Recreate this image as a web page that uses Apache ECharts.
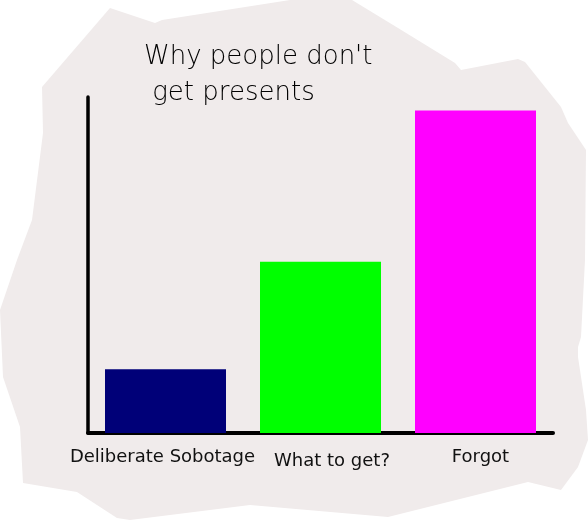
<!DOCTYPE html>
<html>
<head>
<meta charset="utf-8">
<script src="https://cdn.jsdelivr.net/npm/echarts@6/dist/echarts.min.js"></script>
<style>
  html, body { margin: 0; padding: 0; background: #ffffff; }
  #chart { width: 588px; height: 521px; }
</style>
</head>
<body>
<div id="chart"></div>
<script>
const categories = ['Deliberate Sobotage', 'What to get?', 'Forgot'];
const values = [19, 51, 96];
const barColors = ['#000078', '#00ff00', '#ff00ff'];
const titleText = "Why people don't\n get presents";

const paperShape = [[110,8],[155,23],[162,20],[290,0],[352,0],[398,28],[455,63],[461,70],[518,59],[525,62],[561,107],[568,123],[586,150],[585,260],[581,337],[578,347],[578,357],[586,410],[588,440],[578,467],[561,490],[528,482],[388,517],[250,505],[130,520],[117,518],[77,492],[23,483],[20,427],[3,377],[0,310],[17,260],[32,220],[43,133],[42,87]];

const labelPads = [[0, 6, 0, 0], [4, 0, 0, 23], [0, 0, 0, 10]];

const chart = echarts.init(document.getElementById('chart'), null, { renderer: 'canvas' });
chart.setOption({
  animation: false,
  backgroundColor: '#ffffff',
  graphic: [{
    type: 'polygon',
    z: -10,
    silent: true,
    shape: { points: paperShape },
    style: { fill: '#f0ebeb' }
  }],
  title: {
    text: titleText,
    left: 139,
    top: 34,
    textStyle: {
      fontFamily: 'DejaVu Sans',
      fontWeight: 200,
      fontSize: 26,
      lineHeight: 36,
      color: '#000000'
    }
  },
  grid: { left: 88, right: 35, top: 97, bottom: 88, containLabel: false },
  xAxis: {
    type: 'category',
    data: categories.map((c, i) => ({ value: c, textStyle: { padding: labelPads[i] } })),
    axisLine: { show: true, lineStyle: { color: '#000', width: 4 } },
    axisTick: { show: false },
    axisLabel: {
      margin: 15,
      fontFamily: 'DejaVu Sans',
      fontSize: 18,
      color: '#111',
      interval: 0
    }
  },
  yAxis: {
    type: 'value',
    min: 0,
    max: 100,
    axisLine: { show: true, lineStyle: { color: '#000', width: 3.5 } },
    axisTick: { show: false },
    axisLabel: { show: false },
    splitLine: { show: false }
  },
  series: [{
    type: 'bar',
    barWidth: 121,
    data: values.map((v, i) => ({ value: v, itemStyle: { color: barColors[i] } }))
  }]
});
</script>
</body>
</html>
